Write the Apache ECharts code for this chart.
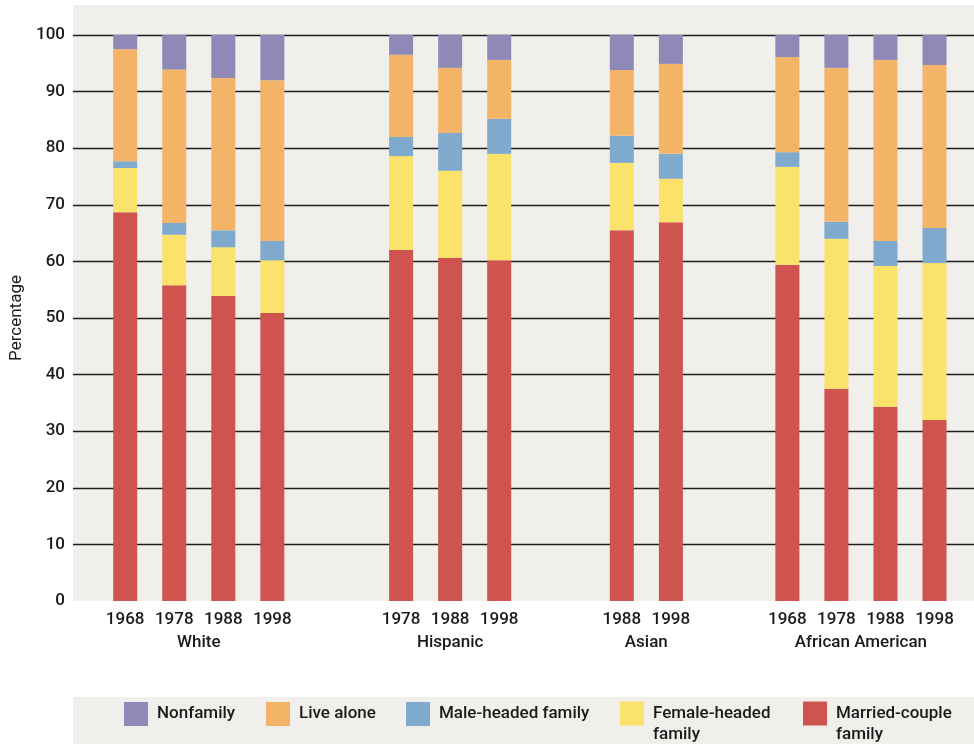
<!DOCTYPE html>
<html><head><meta charset="utf-8">
<script src="https://cdn.jsdelivr.net/npm/echarts@6/dist/echarts.min.js"></script>
<style>html,body{margin:0;padding:0;background:#fff}#c{width:974px;height:744px}</style>
</head><body><div id="c"></div>
<script>
const groups = ['White', 'Hispanic', 'Asian', 'African American'];
const groupYears = [
  ['1968', '1978', '1988', '1998'],
  ['1978', '1988', '1998'],
  ['1988', '1998'],
  ['1968', '1978', '1988', '1998']
];
const seriesNames = ['Married-couple family', 'Female-headed family', 'Male-headed family', 'Live alone', 'Nonfamily'];
const married   = [68.7, 55.8, 53.9, 50.9, 62.0, 60.6, 60.2, 65.5, 66.9, 59.4, 37.5, 34.3, 32.0];
const female    = [7.8, 8.9, 8.6, 9.3, 16.6, 15.4, 18.8, 11.9, 7.7, 17.3, 26.5, 24.9, 27.7];
const male      = [1.2, 2.1, 3.0, 3.4, 3.4, 6.7, 6.2, 4.8, 4.4, 2.6, 3.0, 4.4, 6.2];
const liveAlone = [19.8, 27.1, 26.9, 28.4, 14.5, 11.5, 10.4, 11.6, 15.9, 16.8, 27.2, 32.0, 28.8];
const nonfamily = [2.5, 6.1, 7.6, 8.0, 3.5, 5.8, 4.4, 6.2, 5.1, 3.9, 5.8, 4.4, 5.3];
const yTicks = [0, 10, 20, 30, 40, 50, 60, 70, 80, 90, 100];
const yTitle = 'Percentage';

// layout of category slots (fine slots so group gaps match the figure)
const STEP = 8;
const GROUP_GAPS = [21, 20, 19];
const barSlots = [];
const groupCenters = [];
let pos = 0;
groupYears.forEach((ys, g) => {
  if (g > 0) pos += GROUP_GAPS[g - 1];
  const first = pos;
  ys.forEach((y, j) => { if (j > 0) pos += STEP; barSlots.push(pos); });
  groupCenters.push((first + pos) / 2);
});
const nSlots = pos + 1;
const catData = Array.from({length: nSlots}, (_, i) => 's' + i);
const yearLabels = new Array(nSlots).fill('');
const flatYears = groupYears.flat();
barSlots.forEach((s, k) => yearLabels[s] = flatYears[k]);
const groupLabels = new Array(nSlots).fill('');
groupCenters.forEach((s, g) => groupLabels[s] = groups[g]);
function toSlots(arr) {
  const out = new Array(nSlots).fill('-');
  barSlots.forEach((s, k) => out[s] = arr[k]);
  return out;
}

const FONT = 'Roboto';
const FW = 500;
const TXT = '#1a1a1a';
const BG = '#f0efeb';
const colors = {
  'Married-couple family': '#cf5450',
  'Female-headed family': '#fae26b',
  'Male-headed family': '#80aacd',
  'Live alone': '#f4b467',
  'Nonfamily': '#8f89b8'
};
const values = [married, female, male, liveAlone, nonfamily];

const legendDefs = [
  {name: 'Nonfamily', left: 124, two: false},
  {name: 'Live alone', left: 266, two: false},
  {name: 'Male-headed family', left: 406, two: false},
  {name: 'Female-headed family', left: 620, two: true},
  {name: 'Married-couple family', left: 803, two: true}
];

const chart = echarts.init(document.getElementById('c'), null, {renderer: 'canvas'});
const option = {
  animation: false,
  backgroundColor: '#ffffff',
  textStyle: {fontFamily: FONT},
  graphic: [
    {type: 'rect', z: -1, silent: true, shape: {x: 73, y: 5, width: 901, height: 31}, style: {fill: BG}},
    {type: 'rect', z: -1, silent: true, shape: {x: 73, y: 697, width: 901, height: 47}, style: {fill: BG}}
  ],
  grid: [
    {left: 73, right: 0, top: 35, bottom: 143, show: true, backgroundColor: BG, borderWidth: 0},
    {left: 122.13, width: 815.44, top: 35, bottom: 143}
  ],
  xAxis: [
    {gridIndex: 0, type: 'value', show: false, min: 0, max: 1},
    {gridIndex: 1, type: 'category', data: catData, position: 'bottom',
     axisLine: {show: false}, axisTick: {show: false}, splitLine: {show: false},
     axisLabel: {interval: 0, margin: 10, color: TXT, fontSize: 17, fontWeight: FW, fontFamily: FONT,
       formatter: (v, i) => yearLabels[i]}},
    {gridIndex: 1, type: 'category', data: catData, position: 'bottom',
     axisLine: {show: false}, axisTick: {show: false}, splitLine: {show: false},
     axisLabel: {interval: 0, margin: 33, color: TXT, fontSize: 17, fontWeight: FW, fontFamily: FONT,
       formatter: (v, i) => groupLabels[i]}}
  ],
  yAxis: [
    {gridIndex: 0, type: 'value', min: yTicks[0], max: yTicks[yTicks.length - 1], interval: yTicks[1] - yTicks[0],
     name: yTitle, nameLocation: 'middle', nameGap: 43, nameRotate: 90,
     nameTextStyle: {color: TXT, fontSize: 17, fontFamily: FONT},
     axisLine: {show: false}, axisTick: {show: false},
     axisLabel: {color: TXT, fontSize: 17, fontFamily: FONT, margin: 8, fontWeight: FW},
     splitLine: {show: true, showMinLine: false, lineStyle: {color: '#1e1e1e', width: 1.3}}},
    {gridIndex: 1, type: 'value', min: 0, max: 100, show: false}
  ],
  legend: legendDefs.map(d => ({
    data: [d.name], left: d.left, top: d.two ? 682 : 702, orient: 'horizontal',
    icon: 'rect', itemWidth: 24, itemHeight: 24, padding: 0, selectedMode: false,
    formatter: d.two ? ' \n' + d.name.replace(' family', '\nfamily') : d.name,
    textStyle: d.two
      ? {color: TXT, fontSize: 17, fontWeight: FW, fontFamily: FONT, lineHeight: 21, padding: [0, 0, 0, 4]}
      : {color: TXT, fontSize: 17, fontWeight: FW, fontFamily: FONT, padding: [0, 0, 0, 4]}
  })),
  series: seriesNames.map((n, k) => ({
    name: n, type: 'bar', stack: 'total', xAxisIndex: 1, yAxisIndex: 1,
    barWidth: 24, clip: false, data: toSlots(values[k]),
    itemStyle: {color: colors[n]}
  }))
};
chart.setOption(option);
</script></body></html>
